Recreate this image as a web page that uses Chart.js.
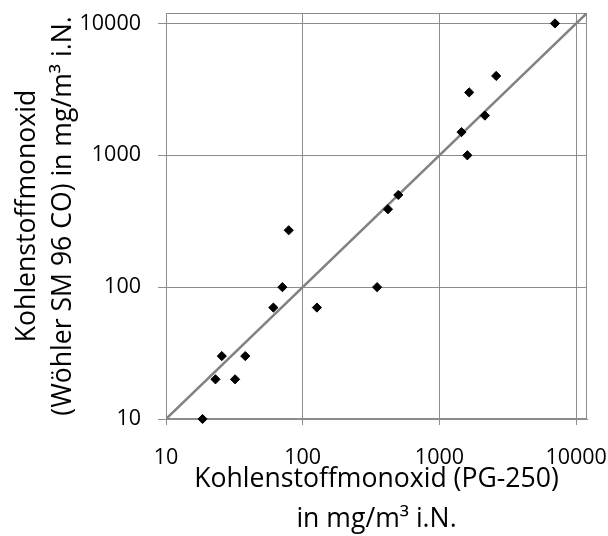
<!DOCTYPE html>
<html>
<head>
<meta charset="utf-8">
<script src="https://cdn.jsdelivr.net/npm/chart.js@4.4.1/dist/chart.umd.min.js"></script>
<style>
  html, body { margin: 0; padding: 0; background: #fff; }
  #wrap { width: 608px; height: 536px; }
</style>
</head>
<body>
<div id="wrap"><canvas id="coChart"></canvas></div>
<script>
// CO readings: PG-250 (x) against Wöhler SM 96 CO (y), mg/m³ i.N.
const pgValues     = [7000, 2600, 1650, 2150, 1450, 1600, 500, 420, 79, 71, 350, 61, 127, 25.6, 38, 23, 32, 18.5];
const woehlerValues = [10000, 4000, 3000, 2000, 1500, 1000, 500, 390, 270, 100, 100, 70, 70, 30, 30, 20, 20, 10];

// 1:1 reference line
const lineValues = [10, 12000];

const tickValues = [10, 100, 1000, 10000];
const axisMin = 10;
const axisMax = 12000;

const gridColor = '#8c8c8c';
const fontFamily = '"Open Sans", Lato, sans-serif';

const points = pgValues.map((x, i) => ({ x: x, y: woehlerValues[i] }));
const diagonal = lineValues.map(v => ({ x: v, y: v }));

// frame round the plot area (top and right sides too)
const plotFrame = {
    id: 'plotFrame',
    beforeDatasetsDraw(chart) {
        const a = chart.chartArea;
        const c = chart.ctx;
        c.save();
        c.strokeStyle = gridColor;
        c.lineWidth = 1;
        c.strokeRect(Math.round(a.left) + 0.5, Math.round(a.top) + 0.5,
            Math.round(a.right - a.left) - 1, Math.round(a.bottom - a.top) - 1);
        c.restore();
    }
};

function fixedTicks(scale) {
    scale.ticks = tickValues.map(v => ({ value: v }));
}

const ctx = document.getElementById('coChart').getContext('2d');
const coChart = new Chart(ctx, {
    type: 'scatter',
    data: {
        datasets: [{
            label: 'Messwerte',
            data: points,
            clip: false,
            pointStyle: 'rectRot',
            pointRadius: 4.6,
            pointBackgroundColor: '#000',
            pointBorderColor: '#000',
            pointBorderWidth: 1
        }, {
            label: '1:1',
            data: diagonal,
            showLine: true,
            borderColor: '#828282',
            borderWidth: 2.5,
            pointRadius: 0
        }]
    },
    options: {
        responsive: true,
        maintainAspectRatio: false,
        animation: false,
        layout: {
            padding: { top: 13, right: 21, left: 0, bottom: 0 }
        },
        plugins: {
            legend: { display: false },
            tooltip: { enabled: false }
        },
        scales: {
            x: {
                type: 'logarithmic',
                min: axisMin,
                max: axisMax,
                afterBuildTicks: fixedTicks,
                afterFit(scale) {
                    scale.height = 117;
                    scale.paddingLeft = 0;
                    scale.paddingRight = 0;
                },
                grid: { color: gridColor, lineWidth: 1, tickLength: 6 },
                border: { color: gridColor },
                ticks: {
                    autoSkip: false,
                    maxRotation: 0,
                    padding: 19.5,
                    color: '#000',
                    font: { family: fontFamily, size: 21.5 },
                    callback: v => String(v)
                },
                title: {
                    display: true,
                    text: ['Kohlenstoffmonoxid (PG-250)', 'in mg/m³ i.N.'],
                    color: '#000',
                    font: { family: fontFamily, size: 26.6, lineHeight: 1.53 },
                    padding: { top: 0, bottom: -4 }
                }
            },
            y: {
                type: 'logarithmic',
                min: axisMin,
                max: axisMax,
                afterBuildTicks: fixedTicks,
                afterFit(scale) {
                    scale.width = 166;
                    scale.paddingTop = 0;
                    scale.paddingBottom = 0;
                },
                grid: { color: gridColor, lineWidth: 1, tickLength: 8 },
                border: { color: gridColor },
                ticks: {
                    autoSkip: false,
                    padding: 17,
                    color: '#000',
                    font: { family: fontFamily, size: 21.5 },
                    callback: v => String(v)
                },
                title: {
                    display: true,
                    text: ['Kohlenstoffmonoxid', '(Wöhler SM 96 CO) in mg/m³ i.N.'],
                    color: '#000',
                    font: { family: fontFamily, size: 26.6, lineHeight: 1.36 },
                    padding: { top: 9, bottom: 0 }
                }
            }
        }
    },
    plugins: [plotFrame]
});
</script>
</body>
</html>
